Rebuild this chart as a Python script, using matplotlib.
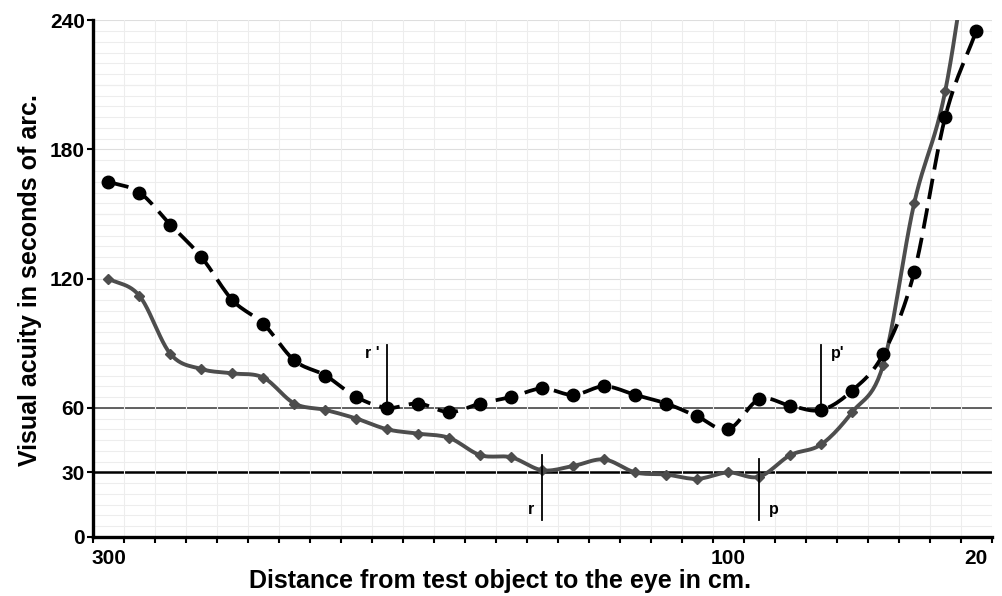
import matplotlib
matplotlib.use("Agg")
import matplotlib.pyplot as plt
import numpy as np

plt.rcParams['font.family'] = ['Liberation Sans', 'DejaVu Sans']
plt.rcParams['font.weight'] = 'bold'

# distances in cm (300 down to 20, step 10)
distance = [300, 290, 280, 270, 260, 250, 240, 230, 220, 210, 200, 190, 180, 170, 160,
            150, 140, 130, 120, 110, 100, 90, 80, 70, 60, 50, 40, 30, 20]
# dashed black series (circles)
acuity_black = [165, 160, 145, 130, 110, 99, 82, 75, 65, 60, 62, 58, 62, 65, 69,
                66, 70, 66, 62, 56, 50, 64, 61, 59, 68, 85, 123, 195, 235]
# solid grey series (diamonds)
acuity_grey = [120, 112, 85, 78, 76, 74, 62, 59, 55, 50, 48, 46, 38, 37, 31,
               33, 36, 30, 29, 27, 30, 28, 38, 43, 58, 80, 155, 207, 300]

# marker lines: distance, y from, y to, label
marks_x = [210, 160, 90, 70]
marks_y0 = [60, 8, 8, 60]
marks_y1 = [89, 38, 36, 89]
marks_lbl = ["r '", "r", "p", "p'"]

ytick_vals = [0, 30, 60, 120, 180, 240]
xtick_vals = [300, 100, 20]


def smooth(x, y, n=12):
    # catmull-rom through the points, like excel's smoothed line
    x = np.asarray(x, float); y = np.asarray(y, float)
    px = np.concatenate([[2*x[0]-x[1]], x, [2*x[-1]-x[-2]]])
    py = np.concatenate([[2*y[0]-y[1]], y, [2*y[-1]-y[-2]]])
    xs, ys = [], []
    t = np.linspace(0, 1, n, endpoint=False)
    for i in range(1, len(px) - 2):
        for p, out in ((px, xs), (py, ys)):
            p0, p1, p2, p3 = p[i-1], p[i], p[i+1], p[i+2]
            out.extend(0.5*((2*p1) + (-p0+p2)*t + (2*p0-5*p1+4*p2-p3)*t**2
                            + (-p0+3*p1-3*p2+p3)*t**3))
    xs.append(x[-1]); ys.append(y[-1])
    return xs, ys


fig = plt.figure(figsize=(10.03, 5.96), dpi=100)
ax = fig.add_axes([0.0927, 0.099, 0.896, 0.867])

ax.set_xlim(305, 15)
ax.set_ylim(0, 240)

# light grid
ax.set_xticks(np.arange(305, 10, -10), minor=True)
ax.set_yticks(np.arange(0, 241, 5), minor=True)
ax.grid(which='minor', color='#ededed', lw=0.8)
for v in range(0, 241, 30):
    ax.axhline(v, color='#dedede', lw=0.8, zorder=0.5)

ax.axhline(60, color='#555555', lw=1.3, zorder=1)
ax.axhline(30, color='black', lw=1.8, zorder=1)

gx, gy = smooth(distance, acuity_grey)
ax.plot(gx, gy, color='#4d4d4d', lw=2.8, zorder=3, solid_capstyle='round')
ax.plot(distance, acuity_grey, ls='none', marker='D', ms=5.5, color='#4d4d4d', zorder=4)

bx, by = smooth(distance, acuity_black)
ax.plot(bx, by, color='black', lw=2.7, ls=(0, (5.5, 2.5)), zorder=5)
ax.plot(distance, acuity_black, ls='none', marker='o', ms=9, color='black', zorder=6)

for x, y0, y1, lbl in zip(marks_x, marks_y0, marks_y1, marks_lbl):
    ax.plot([x, x], [y0, y1], color='black', lw=1.3, zorder=7)
    ty = y1 - 4 if y0 > 30 else y0 + 5
    if lbl.startswith('r'):
        ax.text(x + 2.5, ty, lbl, ha='right', va='center', fontsize=11.5)
    else:
        ax.text(x - 3, ty, lbl, ha='left', va='center', fontsize=11.5)

ax.set_yticks(ytick_vals)
ax.set_yticklabels([str(v) for v in ytick_vals], fontsize=15, fontweight='bold')
ax.set_xticks(xtick_vals)
ax.set_xticklabels([str(v) for v in xtick_vals], fontsize=15, fontweight='bold')
ax.tick_params(axis='x', which='major', length=0, pad=9)
ax.tick_params(axis='x', which='minor', length=4, width=1.5, direction='out')
ax.tick_params(axis='y', which='major', length=4, width=1.5, direction='out', pad=2)
ax.tick_params(axis='y', which='minor', length=0)

for s in ('top', 'right'):
    ax.spines[s].set_visible(False)
for s in ('left', 'bottom'):
    ax.spines[s].set_linewidth(2.4)

fig.text(30/1003, 1 - 280/596, "Visual acuity in seconds of arc.", rotation=90,
         ha='center', va='center', fontsize=18, fontweight='bold')
fig.text(500/1003, 1 - 581/596, "Distance from test object to the eye in cm.",
         ha='center', va='center', fontsize=18, fontweight='bold')

fig.savefig("out.png", dpi=100)
